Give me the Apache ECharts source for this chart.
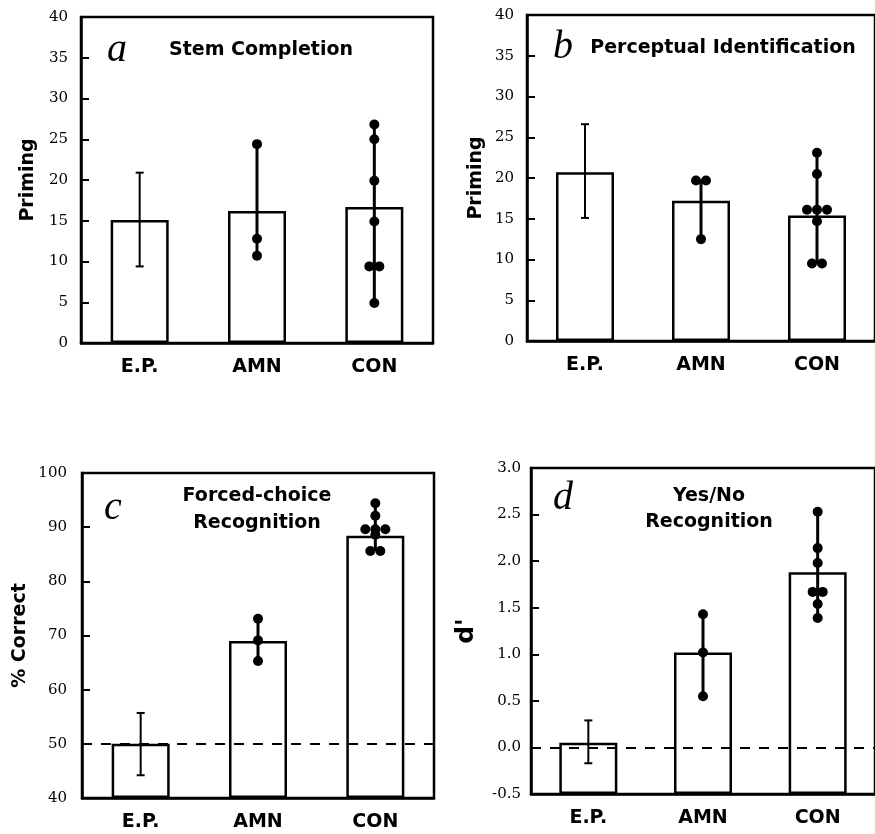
<!DOCTYPE html>
<html>
<head>
<meta charset="utf-8">
<script src="https://cdn.jsdelivr.net/npm/echarts@6/dist/echarts.min.js"></script>
<style>
  html, body { margin: 0; padding: 0; background: #fff; }
  #chart { width: 875px; height: 834px; }
</style>
</head>
<body>
<div id="chart"></div>
<script>
var groups = ['E.P.', 'AMN', 'CON'];

// a - stem completion (priming)
var stemMeans = [15.1, 16.2, 16.7];
var stemEpBar = [9.4, 20.9];
var stemAmn = [24.4, 12.8, 10.7];
var stemCon = [26.8, 25.0, 19.9, 14.9, 9.4, 9.4, 4.9];
var stemTicks = [0, 40, 5];

// b - perceptual identification (priming)
var percMeans = [20.7, 17.2, 15.4];
var percEpBar = [15.1, 26.6];
var percAmn = [19.7, 19.7, 12.5];
var percCon = [23.1, 20.5, 16.1, 16.1, 16.1, 14.7, 9.5, 9.5];
var percTicks = [0, 40, 5];

// c - forced-choice recognition (% correct)
var fcMeans = [50.0, 69.0, 88.4];
var fcEpBar = [44.2, 55.7];
var fcAmn = [73.1, 69.1, 65.3];
var fcCon = [94.4, 92.1, 89.6, 89.6, 89.6, 88.6, 85.6, 85.6];
var fcTicks = [40, 100, 10];
var fcChance = 50;

// d - yes/no recognition (d')
var ynMeans = [0.05, 1.02, 1.88];
var ynEpBar = [-0.17, 0.29];
var ynAmn = [1.43, 1.02, 0.55];
var ynCon = [2.53, 2.14, 1.98, 1.67, 1.67, 1.54, 1.39];
var ynTicks = [-0.5, 3.0, 0.5];
var ynChance = 0;

var chart = echarts.init(document.getElementById('chart'));

var grids = [], xAxes = [], yAxes = [], series = [];

// same values side by side
function dotItems(values, cat) {
  var counts = {}, seen = {};
  values.forEach(function (v) { counts[v] = (counts[v] || 0) + 1; });
  return values.map(function (v) {
    var k = seen[v] || 0;
    seen[v] = k + 1;
    var off = (k - (counts[v] - 1) / 2) * 10;
    return { value: [cat, v], symbolOffset: [off, 0] };
  });
}

function renderRange(params, api) {
  var x = api.value(0);
  var p1 = api.coord([x, api.value(1)]);
  var p2 = api.coord([x, api.value(2)]);
  var cap = api.value(3);
  var style = { stroke: '#000', lineWidth: cap ? 2 : 3 };
  var kids = [{ type: 'line', shape: { x1: p1[0], y1: p1[1], x2: p2[0], y2: p2[1] }, style: style }];
  if (cap) {
    kids.push({ type: 'line', shape: { x1: p1[0] - 4, y1: p1[1], x2: p1[0] + 4, y2: p1[1] }, style: style });
    kids.push({ type: 'line', shape: { x1: p2[0] - 4, y1: p2[1], x2: p2[0] + 4, y2: p2[1] }, style: style });
  }
  return { type: 'group', children: kids };
}

function addPanel(box, ticks, fmt, yName, nameSize, nameGap, labelMargin, means, epBar, amn, con, chance) {
  var i = grids.length;
  grids.push({
    left: box[0], top: box[1], width: box[2], height: box[3],
    show: true, borderColor: '#000', borderWidth: 2.5, backgroundColor: 'transparent'
  });
  xAxes.push({
    gridIndex: i, type: 'category', data: groups,
    axisTick: { show: false },
    axisLine: { onZero: false, lineStyle: { color: '#000', width: 2.5 } },
    axisLabel: { color: '#000', fontFamily: 'DejaVu Sans', fontWeight: 'bold', fontSize: 19, margin: 15 }
  });
  yAxes.push({
    gridIndex: i, type: 'value', min: ticks[0], max: ticks[1], interval: ticks[2], startValue: ticks[0],
    name: yName, nameLocation: 'middle', nameGap: nameGap,
    nameTextStyle: { color: '#000', fontFamily: 'DejaVu Sans', fontWeight: 'bold', fontSize: nameSize },
    splitLine: { show: false },
    axisLine: { show: true, lineStyle: { color: '#000', width: 2.5 } },
    axisTick: { show: true, inside: true, length: 8, lineStyle: { color: '#000', width: 2 } },
    axisLabel: { color: '#000', fontFamily: 'DejaVu Serif', fontSize: 15, margin: labelMargin, formatter: fmt }
  });
  var bar = {
    type: 'bar', xAxisIndex: i, yAxisIndex: i, data: means, barWidth: 58,
    itemStyle: { color: '#fff', borderColor: '#000', borderWidth: 2.5 }
  };
  if (chance != null) {
    bar.markLine = {
      silent: true, symbol: 'none', label: { show: false },
      lineStyle: { type: [10, 9], color: '#000', width: 2 },
      data: [{ yAxis: chance }]
    };
  }
  series.push(bar);
  series.push({
    type: 'custom', xAxisIndex: i, yAxisIndex: i, renderItem: renderRange,
    encode: { x: 0, y: [1, 2] }, z: 5,
    data: [
      [0, epBar[0], epBar[1], 1],
      [1, Math.min.apply(null, amn), Math.max.apply(null, amn), 0],
      [2, Math.min.apply(null, con), Math.max.apply(null, con), 0]
    ]
  });
  series.push({
    type: 'scatter', xAxisIndex: i, yAxisIndex: i, symbolSize: 10, z: 6,
    itemStyle: { color: '#000', opacity: 1 },
    data: dotItems(amn, 1).concat(dotItems(con, 2))
  });
}

addPanel([81, 17, 352, 326], stemTicks, null, 'Priming', 19, 43, 13, stemMeans, stemEpBar, stemAmn, stemCon, null);
addPanel([527, 15, 354, 326], percTicks, null, 'Priming', 19, 41, 13, percMeans, percEpBar, percAmn, percCon, null);
addPanel([82, 473, 352, 325], fcTicks, null, '% Correct', 19, 52, 15, fcMeans, fcEpBar, fcAmn, fcCon, fcChance);
addPanel([531, 468, 352, 326], ynTicks, function (v) { return v.toFixed(1); }, "d'", 25, 52, 10, ynMeans, ynEpBar, ynAmn, ynCon, ynChance);

function label(txt, x, y, font, lh) {
  return {
    type: 'text', x: x, y: y, z: 10,
    style: {
      text: txt, font: font, fill: '#000', lineHeight: lh || 20,
      align: 'center', verticalAlign: 'middle', textAlign: 'center', textVerticalAlign: 'middle'
    }
  };
}
var titleFont = 'bold 19px "DejaVu Sans"';
var letterFont = 'italic 40px "Liberation Serif"';

chart.setOption({
  animation: false,
  backgroundColor: '#fff',
  grid: grids,
  xAxis: xAxes,
  yAxis: yAxes,
  series: series,
  graphic: [
    label('a', 117, 50, letterFont),
    label('Stem Completion', 261, 50, titleFont),
    label('b', 563, 47, letterFont),
    label('Perceptual Identification', 723, 48, titleFont),
    label('c', 113, 508, letterFont),
    label('Forced-choice\nRecognition', 257, 510, titleFont, 27),
    label('d', 563, 498, letterFont),
    label('Yes/No\nRecognition', 709, 509, titleFont, 26)
  ]
});
</script>
</body>
</html>
